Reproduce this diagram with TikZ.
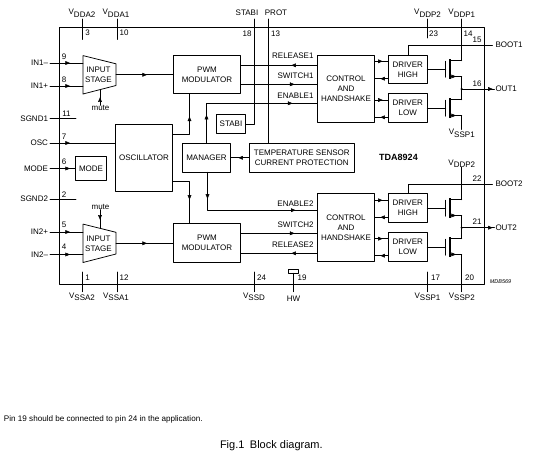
\documentclass[tikz,border=0pt]{standalone}
\usepackage{fontspec}
\setmainfont{Liberation Sans}
\usetikzlibrary{arrows,decorations.markings}
\newcommand{\vpin}[1]{V\raisebox{-2.4pt}{#1}}
% input stage: name, middle height
\newcommand{\inputstage}[2]{
	\draw (83,#2-19.2)--(116,#2-11)--(116,#2+10.7)--(83,#2+19.2)--cycle;
	\coordinate (#1w) at (83,#2);
	\coordinate (#1e) at (116,#2);
	\node[block={0}{0},draw=none] (#1) at (98.5,#2) {INPUT\\STAGE};
}
% transistor: name, gate height
\newcommand{\fet}[2]{
	\coordinate (#1g) at (445.7,#2);
	\coordinate (#1d) at (461.7,#2-8.5);
	\coordinate (#1s) at (461.7,#2+7.2);
	\draw (445.7,#2-8)--(445.7,#2+8);
	\draw[line width=1.5pt,line cap=butt] (450,#2-10)--(450,#2+10);
	\draw[flow=6pt] (450,#2+7.2)--(#1s);
	\draw (450,#2-8.5)--(#1d);
}
\begin{document}
\begin{tikzpicture}[line cap=round,line join=round,>=triangle 45,x=1pt,y=-1pt,line width=0.75pt,
	txt/.style={font=\fontsize{8}{10}\selectfont,inner sep=0pt,outer sep=0pt},
	block/.style 2 args={draw,txt,align=center,minimum width=#1pt,minimum height=#2pt},
	flow/.style={decoration={markings,mark=at position #1 with {\arrow[scale=0.6]{>}}},postaction={decorate}},
	flowtwo/.style 2 args={decoration={markings,mark=at position #1 with {\arrow[scale=0.6]{>}},mark=at position #2 with {\arrow[scale=0.6]{>}}},postaction={decorate}}]
	\useasboundingbox (0,0) rectangle (536,452);
	% outline
	\draw (59.5,27.5) rectangle (484.3,284.7);
	% blocks
	\inputstage{inputa}{74.8}
	\inputstage{inputb}{243.3}
	\node[block={67}{38}] (pwma) at (207,74.5) {PWM\\MODULATOR};
	\node[block={67}{38.8}] (pwmb) at (207,242.9) {PWM\\MODULATOR};
	\node[block={57}{67}] (osc) at (144,158) {OSCILLATOR};
	\node[block={31}{24}] (modebox) at (91,168.5) {MODE};
	\node[block={48.4}{29}] (manager) at (206.5,157.8) {MANAGER};
	\node[block={29}{18.5}] (stabibox) at (231,123.8) {STABI};
	\node[block={105}{29}] (tempsensor) at (301.8,157.8) {TEMPERATURE SENSOR\\CURRENT PROTECTION};
	\node[block={57.4}{67}] (ctrla) at (346,88.8) {CONTROL\\AND\\HANDSHAKE};
	\node[block={57.4}{68}] (ctrlb) at (346,227.3) {CONTROL\\AND\\HANDSHAKE};
	\node[block={39}{27.8}] (drvhia) at (407.8,69.4) {DRIVER\\HIGH};
	\node[block={39}{29}] (drvloa) at (407.8,107.8) {DRIVER\\LOW};
	\node[block={39}{29}] (drvhib) at (407.8,207.8) {DRIVER\\HIGH};
	\node[block={39}{29}] (drvlob) at (407.8,246.8) {DRIVER\\LOW};
	\node[block={9.6}{4}] (hwbox) at (293.5,271.3) {};
	\node[txt,font=\fontsize{9}{10}\selectfont\bfseries] (chipname) at (398.5,157.5) {TDA8924};
	\node[txt,font=\fontsize{5.5}{6}\selectfont\itshape] (figcode) at (500.5,282) {MDB569};
	\fet{feta}{69.3}
	\fet{fetb}{108.3}
	\fet{fetc}{208.3}
	\fet{fetd}{247.2}
	% left pins
	\node[txt,anchor=east] (inamin) at (48,63) {IN1--};
	\node[txt,anchor=east] (inaplus) at (48,86) {IN1+};
	\node[txt,anchor=east] (sgnda) at (48,118.5) {SGND1};
	\node[txt,anchor=east] (oscpin) at (48,143) {OSC};
	\node[txt,anchor=east] (modepin) at (48,168.5) {MODE};
	\node[txt,anchor=east] (sgndb) at (48,199) {SGND2};
	\node[txt,anchor=east] (inbplus) at (48,232) {IN2+};
	\node[txt,anchor=east] (inbmin) at (48,254.5) {IN2--};
	\coordinate (sgndaend) at (76,118.5);
	\coordinate (sgndbend) at (76,199);
	\draw[flow=20pt] ([xshift=2pt]inamin.east)--(inamin -| inputaw);
	\draw[flow=20pt] ([xshift=2pt]inaplus.east)--(inaplus -| inputaw);
	\draw ([xshift=2pt]sgnda.east)--(sgndaend);
	\draw[flow=20pt] ([xshift=2pt]oscpin.east)--(oscpin -| osc.west);
	\draw[flow=20pt] ([xshift=2pt]modepin.east)--(modebox.west);
	\draw ([xshift=2pt]sgndb.east)--(sgndbend);
	\draw[flow=20pt] ([xshift=2pt]inbplus.east)--(inbplus -| inputbw);
	\draw[flow=20pt] ([xshift=2pt]inbmin.east)--(inbmin -| inputbw);
	\node[txt] (pinix) at (64,57) {9};
	\node[txt] (pinviii) at (64,80) {8};
	\node[txt] (pinxi) at (66.5,114) {11};
	\node[txt] (pinvii) at (64,137) {7};
	\node[txt] (pinvi) at (64,162) {6};
	\node[txt] (pinii) at (64,195) {2};
	\node[txt] (pinv) at (64,225) {5};
	\node[txt] (piniv) at (64,247) {4};
	% mute
	\node[txt] (mutea) at (100.5,108) {mute};
	\node[txt] (muteb) at (100.5,207) {mute};
	\coordinate (muteaend) at (100,89.6);
	\coordinate (mutebend) at (100,228.4);
	\draw[flow=8pt] (mutea.north -| muteaend)--(muteaend);
	\draw[flow=10pt] (muteb.south -| mutebend)--(mutebend);
	% top pins
	\node[txt,anchor=base] (vddab) at (82,15) {\vpin{DDA2}};
	\node[txt,anchor=base] (vddaa) at (116,15) {\vpin{DDA1}};
	\node[txt,anchor=base] (stabipin) at (247,15.7) {STABI};
	\node[txt,anchor=base] (protpin) at (276,15.7) {PROT};
	\node[txt,anchor=base] (vddpb) at (427.5,14.7) {\vpin{DDP2}};
	\node[txt,anchor=base] (vddpa) at (461.8,14.7) {\vpin{DDP1}};
	\coordinate (vddabend) at (82.5,39.5);
	\coordinate (vddaaend) at (117.5,39.5);
	\coordinate (vddpbend) at (427.3,38);
	\coordinate (stabicorner) at (254.5,124);
	\coordinate (protline) at (268.7,19);
	\draw (82.5,19)--(vddabend);
	\draw (117.5,19)--(vddaaend);
	\draw (427.3,19)--(vddpbend);
	\draw (461.7,19)--(fetad);
	\draw (254.5,19)--(stabicorner)--(stabibox.east |- stabicorner);
	\draw (protline)--(protline |- tempsensor.north);
	\node[txt] (piniii) at (87.5,33) {3};
	\node[txt] (pinx) at (124,33) {10};
	\node[txt] (pinxviii) at (247,34) {18};
	\node[txt] (pinxiii) at (275.5,34) {13};
	\node[txt] (pinxxiii) at (433.5,34) {23};
	\node[txt] (pinxiv) at (468,33.5) {14};
	% signal paths
	\draw[flow=31pt] (inputae)--(pwma.west |- inputae);
	\draw[flow=31pt] (inputbe)--(pwmb.west |- inputbe);
	\coordinate (oscup) at (189.5,134.5);
	\coordinate (oscdown) at (189.5,181.7);
	\draw[flow=35pt] (osc.east |- oscup)--(oscup)--(pwma.south -| oscup);
	\draw[flow=35pt] (osc.east |- oscdown)--(oscdown)--(pwmb.north -| oscdown);
	\draw[flow=11pt] (tempsensor.west)--(manager.east);
	\coordinate (enablea) at (206.5,103.3);
	\coordinate (enableb) at (207.5,210.2);
	\draw[flowtwo={28.5pt}{126pt}] (manager.north -| enablea)--(enablea)--(ctrla.west |- enablea);
	\draw[flowtwo={26.5pt}{126pt}] (manager.south -| enableb)--(enableb)--(ctrlb.west |- enableb);
	\coordinate (releasea) at (280,65.3);
	\coordinate (switcha) at (280,84.3);
	\coordinate (switchb) at (280,233.3);
	\coordinate (releaseb) at (280,253.3);
	\draw[flow=26pt] (ctrla.west |- releasea)--(pwma.east |- releasea);
	\draw[flow=54pt] (pwma.east |- switcha)--(ctrla.west |- switcha);
	\draw[flow=54pt] (pwmb.east |- switchb)--(ctrlb.west |- switchb);
	\draw[flow=26pt] (ctrlb.west |- releaseb)--(pwmb.east |- releaseb);
	\node[txt,anchor=east] (releasealabel) at (313.5,56) {RELEASE1};
	\node[txt,anchor=east] (switchalabel) at (313.5,76) {SWITCH1};
	\node[txt,anchor=east] (enablealabel) at (313.5,96) {ENABLE1};
	\node[txt,anchor=east] (enableblabel) at (313.5,204) {ENABLE2};
	\node[txt,anchor=east] (switchblabel) at (313.5,225) {SWITCH2};
	\node[txt,anchor=east] (releaseblabel) at (313.5,244.6) {RELEASE2};
	% control to drivers
	\coordinate (hiina) at (381,61.3);
	\coordinate (hiouta) at (381,78.7);
	\coordinate (loina) at (381,100);
	\coordinate (loouta) at (381,117.3);
	\coordinate (hiinb) at (381,200.3);
	\coordinate (hioutb) at (381,217.3);
	\coordinate (loinb) at (381,238.7);
	\coordinate (looutb) at (381,255.7);
	\draw[flow=8pt] (ctrla.east |- hiina)--(drvhia.west |- hiina);
	\draw[flow=8pt] (drvhia.west |- hiouta)--(ctrla.east |- hiouta);
	\draw[flow=8pt] (ctrla.east |- loina)--(drvloa.west |- loina);
	\draw[flow=8pt] (drvloa.west |- loouta)--(ctrla.east |- loouta);
	\draw[flow=8pt] (ctrlb.east |- hiinb)--(drvhib.west |- hiinb);
	\draw[flow=8pt] (drvhib.west |- hioutb)--(ctrlb.east |- hioutb);
	\draw[flow=8pt] (ctrlb.east |- loinb)--(drvlob.west |- loinb);
	\draw[flow=8pt] (drvlob.west |- looutb)--(ctrlb.east |- looutb);
	% drivers to transistors
	\draw (drvhia.east |- fetag)--(fetag);
	\draw (drvloa.east |- fetbg)--(fetbg);
	\draw (drvhib.east |- fetcg)--(fetcg);
	\draw (drvlob.east |- fetdg)--(fetdg);
	% outputs
	\draw (fetas)--(fetbd);
	\draw (fetcs)--(fetdd);
	\coordinate (outa) at (461.7,89);
	\coordinate (outb) at (461.7,227.7);
	\filldraw (outa) circle (0.7);
	\filldraw (outb) circle (0.7);
	\node[txt,anchor=west] (outalabel) at (495.5,89) {OUT1};
	\node[txt,anchor=west] (outblabel) at (495.5,227.7) {OUT2};
	\draw[flow=31pt] (outa)--([xshift=-1pt]outalabel.west);
	\draw[flow=31pt] (outb)--([xshift=-1pt]outblabel.west);
	\node[txt] (pinxvi) at (477,84) {16};
	\node[txt] (pinxxi) at (477,222) {21};
	% boot
	\node[txt,anchor=west] (bootalabel) at (495.5,45) {BOOT1};
	\node[txt,anchor=west] (bootblabel) at (495.5,184) {BOOT2};
	\coordinate (bootacorner) at (408.3,45);
	\coordinate (bootbcorner) at (408.3,184);
	\draw (drvhia.north -| bootacorner)--(bootacorner)--([xshift=-3pt]bootalabel.west);
	\draw (drvhib.north -| bootbcorner)--(bootbcorner)--([xshift=-3pt]bootblabel.west);
	\node[txt] (pinxv) at (477,40) {15};
	\node[txt] (pinxxii) at (477,179) {22};
	% supplies on the transistors
	\node[txt,anchor=base] (vsspatop) at (461.8,135) {\vpin{SSP1}};
	\node[txt,anchor=base] (vddpbtop) at (461.8,165) {\vpin{DDP2}};
	\draw (fetbs)--(vsspatop.north -| fetbs);
	\draw (vddpbtop.south -| fetcd)--(fetcd);
	\node[txt,anchor=base] (vsspb) at (461.8,298.5) {\vpin{SSP2}};
	\node[txt,anchor=base] (vsspa) at (427.5,298.5) {\vpin{SSP1}};
	\coordinate (vsspbend) at (461.7,291.7);
	\coordinate (vsspaend) at (427.3,291.7);
	\draw (fetds)--(vsspbend);
	\draw (427.3,272)--(vsspaend);
	\node[txt] (pinxx) at (469.5,278) {20};
	\node[txt] (pinxvii) at (435.5,278) {17};
	% bottom pins
	\node[txt,anchor=base] (vssab) at (82,298.5) {\vpin{SSA2}};
	\node[txt,anchor=base] (vssaa) at (116,298.5) {\vpin{SSA1}};
	\node[txt,anchor=base] (vssd) at (254,298.5) {\vpin{SSD}};
	\node[txt,anchor=base] (hwlabel) at (293.5,301) {HW};
	\coordinate (vssabend) at (82.5,291.7);
	\coordinate (vssaaend) at (117.5,291.7);
	\coordinate (vssdend) at (254.5,291.7);
	\coordinate (hwend) at (293.5,291.7);
	\draw (82.5,272)--(vssabend);
	\draw (117.5,272)--(vssaaend);
	\draw (254.5,272)--(vssdend);
	\draw (hwbox.south)--(hwend);
	\node[txt] (pini) at (87.5,278) {1};
	\node[txt] (pinxii) at (124,278) {12};
	\node[txt] (pinxxiv) at (261.5,278) {24};
	\node[txt] (pinxix) at (302,278) {19};
	% notes
	\node[txt,anchor=west,font=\fontsize{8.1}{9}\selectfont] (pinnote) at (4,419.7) {Pin 19 should be connected to pin 24 in the application.};
	\node[txt,anchor=west,font=\fontsize{11}{12}\selectfont] (caption) at (220,445.5) {Fig.1\enspace Block diagram.};
\end{tikzpicture}
\end{document}
